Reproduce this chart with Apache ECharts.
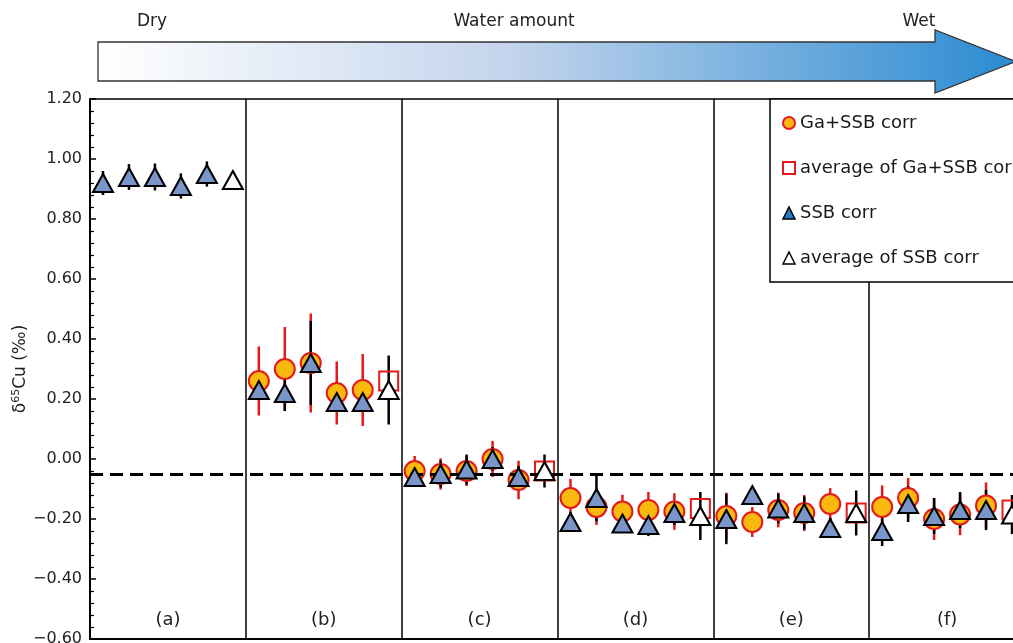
<!DOCTYPE html>
<html>
<head>
<meta charset="utf-8">
<script src="https://cdn.jsdelivr.net/npm/echarts@6/dist/echarts.min.js"></script>
<style>
  html, body { margin: 0; padding: 0; background: #fff; }
  #chart { width: 1013px; height: 643px; }
</style>
</head>
<body>
<div id="chart"></div>
<script>
// Panels from dry (a) to wet (f); each panel holds five runs plus their average
const panelLabels = ['(a)', '(b)', '(c)', '(d)', '(e)', '(f)'];
const arrowLabels = ['Dry', 'Water amount', 'Wet'];

// SSB corrected δ65Cu, panels (a)–(f)
const ssbCorr = [
  [0.92, 0.94, 0.94, 0.91, 0.95],
  [0.23, 0.22, 0.32, 0.19, 0.19],
  [-0.06, -0.05, -0.035, 0.00, -0.06],
  [-0.21, -0.13, -0.215, -0.22, -0.18],
  [-0.20, -0.12, -0.165, -0.18, -0.23],
  [-0.24, -0.15, -0.19, -0.17, -0.17]
];
const ssbCorrErr = [
  [0.04, 0.043, 0.045, 0.042, 0.042],
  [0.03, 0.06, 0.14, 0.03, 0.03],
  [0.03, 0.045, 0.05, 0.04, 0.037],
  [0.033, 0.078, 0.03, 0.037, 0.04],
  [0.084, 0.025, 0.05, 0.055, 0.033],
  [0.05, 0.06, 0.06, 0.06, 0.067]
];
const ssbAvg = [0.93, 0.23, -0.04, -0.19, -0.18, -0.185];
const ssbAvgErr = [0.02, 0.115, 0.055, 0.08, 0.075, 0.065];

// Ga+SSB corrected δ65Cu, panels (b)–(f)
const gaFirstPanel = 1;
const gaCorr = [
  [0.26, 0.30, 0.32, 0.22, 0.23],
  [-0.04, -0.05, -0.04, 0.00, -0.07],
  [-0.13, -0.16, -0.175, -0.17, -0.175],
  [-0.19, -0.21, -0.17, -0.18, -0.15],
  [-0.16, -0.13, -0.20, -0.185, -0.155]
];
const gaCorrErr = [
  [0.115, 0.14, 0.165, 0.105, 0.12],
  [0.05, 0.052, 0.05, 0.06, 0.064],
  [0.064, 0.06, 0.056, 0.06, 0.061],
  [0.078, 0.05, 0.058, 0.06, 0.053],
  [0.072, 0.067, 0.07, 0.069, 0.077]
];
const gaAvg = [0.26, -0.04, -0.165, -0.18, -0.17];

// y scale and reference value
const yMin = -0.6, yMax = 1.2, yStep = 0.2;
const refLine = -0.05;

const SLOTS = 6;
const slotX = (panel, slot) => panel + (slot + 0.5) / SLOTS;

const ssbPts = [], ssbErrPts = [], ssbAvgPts = [];
ssbCorr.forEach((row, p) => row.forEach((v, k) => {
  ssbPts.push([slotX(p, k), v]);
  ssbErrPts.push([slotX(p, k), v, ssbCorrErr[p][k]]);
}));
ssbAvg.forEach((v, p) => {
  ssbAvgPts.push([slotX(p, 5), v]);
  ssbErrPts.push([slotX(p, 5), v, ssbAvgErr[p]]);
});

const gaPts = [], gaErrPts = [], gaAvgPts = [];
gaCorr.forEach((row, i) => row.forEach((v, k) => {
  const p = i + gaFirstPanel;
  gaPts.push([slotX(p, k), v]);
  gaErrPts.push([slotX(p, k), v, gaCorrErr[i][k]]);
}));
gaAvg.forEach((v, i) => gaAvgPts.push([slotX(i + gaFirstPanel, 5), v]));

const RED = '#e31a1c';
const ORANGE = '#f9b90f';
const STEEL = '#7a96c9';
const FONT = 'DejaVu Sans';

function errBar(color) {
  return function (params, api) {
    const x = api.value(0), v = api.value(1), e = api.value(2);
    const a = api.coord([x, v + e]);
    const b = api.coord([x, v - e]);
    return {
      type: 'line',
      shape: { x1: a[0], y1: a[1], x2: b[0], y2: b[1] },
      style: { stroke: color, lineWidth: 2.5 }
    };
  };
}

const chart = echarts.init(document.getElementById('chart'));

chart.setOption({
  animation: false,
  backgroundColor: '#fff',
  // the last panel runs past the right edge of the page
  grid: {
    left: 90, right: -12, top: 99, bottom: 4,
    outerBoundsMode: 'none',
    containLabel: false,
    show: true, borderColor: '#000', borderWidth: 1.5
  },
  legend: {
    orient: 'vertical',
    left: 770, top: 99,
    padding: [15, 40, 15, 12],
    itemGap: 27,
    itemWidth: 12, itemHeight: 12,
    borderColor: '#000', borderWidth: 1.5,
    backgroundColor: '#fff',
    selectedMode: false,
    textStyle: { fontFamily: FONT, fontSize: 18, color: '#1a1a1a' },
    data: [
      { name: 'Ga+SSB corr', icon: 'circle', itemStyle: { color: ORANGE, borderColor: RED, borderWidth: 2 } },
      { name: 'average of Ga+SSB corr', icon: 'rect', itemStyle: { color: '#fff', borderColor: RED, borderWidth: 2 } },
      { name: 'SSB corr', icon: 'triangle', itemStyle: { color: '#2079c9', borderColor: '#000', borderWidth: 1.5 } },
      { name: 'average of SSB corr', icon: 'triangle', itemStyle: { color: '#fff', borderColor: '#000', borderWidth: 1.5 } }
    ],
    z: 20
  },
  xAxis: [
    {
      type: 'value', min: 0, max: SLOTS, interval: 1,
      axisLine: { show: true, onZero: false, lineStyle: { color: '#000', width: 2 } },
      axisTick: { show: false },
      axisLabel: { show: false },
      splitLine: { show: true, lineStyle: { color: '#000', width: 1.5 } }
    },
    {
      type: 'category', data: panelLabels, position: 'bottom',
      axisLine: { show: false, onZero: false }, axisTick: { show: false },
      splitLine: { show: false },
      axisLabel: { inside: true, margin: 10, fontFamily: FONT, fontSize: 18, color: '#222' }
    }
  ],
  yAxis: {
    type: 'value', min: yMin, max: yMax, interval: yStep,
    name: '{d|δ}{s|65}{d|Cu (‰)}',
    nameLocation: 'middle', nameRotate: 90, nameGap: 59,
    nameMoveOverlap: false,
    nameTextStyle: {
      rich: {
        d: { fontFamily: FONT, fontSize: 17, color: '#222', lineHeight: 20 },
        s: { fontFamily: FONT, fontSize: 11, color: '#222', lineHeight: 20, verticalAlign: 'top', padding: [0, 0, 6, 0] }
      }
    },
    axisLine: { show: true, onZero: false, lineStyle: { color: '#000', width: 1.5 } },
    axisTick: { show: true, inside: true, length: 6, lineStyle: { color: '#000', width: 1.5 } },
    minorTick: { show: true, splitNumber: 5, length: 4, lineStyle: { color: '#000', width: 1.2 } },
    splitLine: { show: false },
    axisLabel: {
      margin: 8, fontFamily: FONT, fontSize: 16, color: '#222',
      formatter: v => v.toFixed(2).replace('-', '\u2212')
    }
  },
  series: [
    {
      type: 'custom', name: 'Ga+SSB error', xAxisIndex: 0,
      renderItem: errBar(RED), data: gaErrPts, encode: { x: 0, y: 1 }, z: 2,
      markLine: {
        silent: true, symbol: 'none', label: { show: false },
        lineStyle: { color: '#000', width: 3, type: [13, 7] },
        data: [{ yAxis: refLine }]
      }
    },
    {
      type: 'custom', name: 'SSB error', xAxisIndex: 0,
      renderItem: errBar('#000'), data: ssbErrPts, encode: { x: 0, y: 1 }, z: 3
    },
    {
      type: 'scatter', name: 'Ga+SSB corr', xAxisIndex: 0, data: gaPts,
      symbol: 'circle', symbolSize: 20,
      itemStyle: { color: ORANGE, borderColor: RED, borderWidth: 2, opacity: 1 }, z: 4
    },
    {
      type: 'scatter', name: 'average of Ga+SSB corr', xAxisIndex: 0, data: gaAvgPts,
      symbol: 'rect', symbolSize: 19,
      itemStyle: { color: 'rgba(255,255,255,0)', borderColor: RED, borderWidth: 2, opacity: 1 }, z: 4
    },
    {
      type: 'scatter', name: 'SSB corr', xAxisIndex: 0, data: ssbPts,
      symbol: 'triangle', symbolSize: [20, 18],
      itemStyle: { color: STEEL, borderColor: '#000', borderWidth: 2, opacity: 1 }, z: 5
    },
    {
      type: 'scatter', name: 'average of SSB corr', xAxisIndex: 0, data: ssbAvgPts,
      symbol: 'triangle', symbolSize: [20, 18],
      itemStyle: { color: '#fff', borderColor: '#000', borderWidth: 2, opacity: 1 }, z: 5
    }
  ],
  graphic: [
    {
      type: 'polygon', z: 10,
      shape: { points: [[98, 42], [935, 42], [935, 30], [1016, 61.5], [935, 93], [935, 81], [98, 81]] },
      style: {
        fill: {
          type: 'linear', x: 0, y: 0, x2: 1, y2: 0,
          colorStops: [
            { offset: 0, color: '#ffffff' },
            { offset: 0.45, color: '#c3d4ec' },
            { offset: 1, color: '#2a8bd2' }
          ]
        },
        stroke: '#333', lineWidth: 1.3
      }
    },
    { type: 'text', z: 10, x: 152, y: 22, style: { text: arrowLabels[0], font: '17px "DejaVu Sans"', fill: '#222', align: 'center', verticalAlign: 'middle' } },
    { type: 'text', z: 10, x: 514, y: 22, style: { text: arrowLabels[1], font: '17px "DejaVu Sans"', fill: '#222', align: 'center', verticalAlign: 'middle' } },
    { type: 'text', z: 10, x: 919, y: 22, style: { text: arrowLabels[2], font: '17px "DejaVu Sans"', fill: '#222', align: 'center', verticalAlign: 'middle' } }
  ]
});
</script>
</body>
</html>
